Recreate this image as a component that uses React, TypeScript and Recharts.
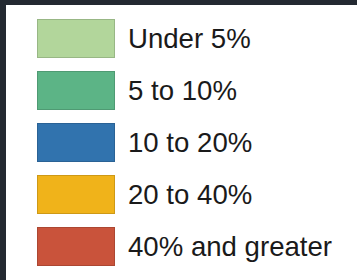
import React from 'react';
import { BarChart, Bar, Legend, XAxis, YAxis } from 'recharts';

const categories = ['Under 5%', '5 to 10%', '10 to 20%', '20 to 40%', '40% and greater'];
const colors = ['#b2d69b', '#5cb486', '#3173ae', '#f0b31a', '#c9533b'];
const dataKeys = ['k0', 'k1', 'k2', 'k3', 'k4'];
const chartData = [{ name: 'row' }];

const LegendContent = (props: any) => {
  const payload: any[] = (props.payload || []).slice();
  payload.sort((a, b) => categories.indexOf(a.value) - categories.indexOf(b.value));
  return (
    <div style={{ position: 'relative', width: 351, height: 275 }}>
      {payload.map((p, i) => (
        <div
          key={p.value}
          style={{
            position: 'absolute',
            left: 31,
            top: 14 + i * 52,
            height: 39,
            display: 'flex',
            alignItems: 'center',
          }}
        >
          <div
            style={{
              width: 78,
              height: 39,
              boxSizing: 'border-box',
              background: p.color,
              border: '1px solid rgba(0,0,0,0.14)',
            }}
          />
          <span
            style={{
              marginLeft: 13,
              fontFamily: '"Liberation Sans", Arial, sans-serif',
              fontSize: 27.6,
              color: '#1a1a1a',
              lineHeight: '39px',
              whiteSpace: 'nowrap',
            }}
          >
            {p.value}
          </span>
        </div>
      ))}
    </div>
  );
};

export default function App() {
  return (
    <div
      style={{
        position: 'fixed',
        left: 0,
        top: 0,
        width: 357,
        height: 280,
        background: '#232931',
      }}
    >
      <div style={{ position: 'absolute', left: 6, top: 5, width: 351, height: 275, background: '#ffffff' }}>
        <BarChart width={351} height={275} data={chartData} margin={{ top: 0, right: 0, bottom: 0, left: 0 }}>
          <XAxis dataKey="name" hide />
          <YAxis hide />
          {categories.map((c, i) => (
            <Bar key={c} dataKey={dataKeys[i]} name={c} fill={colors[i]} isAnimationActive={false} />
          ))}
          <Legend
            layout="vertical"
            align="left"
            verticalAlign="top"
            content={LegendContent}
            wrapperStyle={{ left: 0, top: 0, width: 351, height: 275 }}
          />
        </BarChart>
      </div>
    </div>
  );
}
